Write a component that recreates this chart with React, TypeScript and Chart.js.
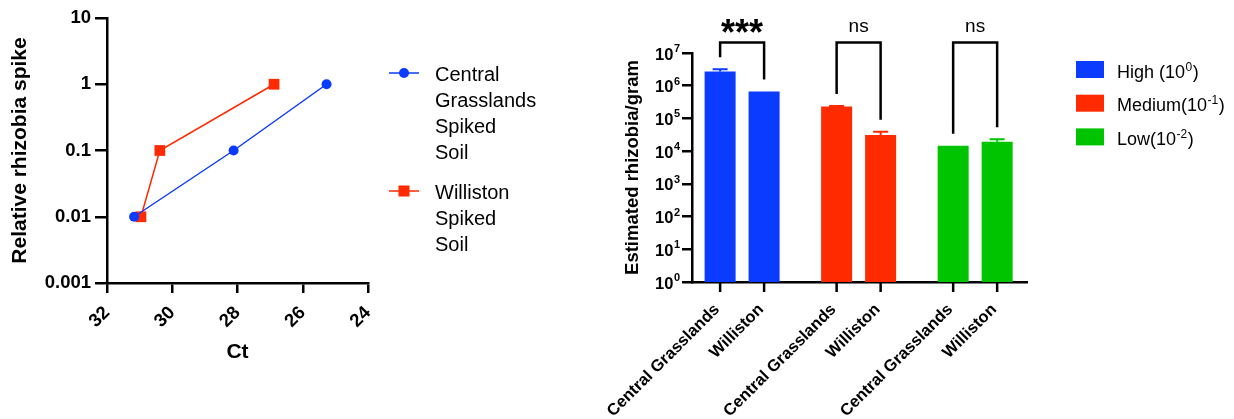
import React, { useEffect, useRef } from 'react';
import { Chart, registerables } from 'chart.js';

Chart.register(...registerables);

const FONT = 'Arial, "Liberation Sans", Helvetica, sans-serif';
Chart.defaults.font.family = FONT;
Chart.defaults.color = '#000';

// ---------- Left chart data ----------
const ctCentral = [31.17, 28.12, 25.27];
const spikeCentral = [0.01, 0.1, 1];
const ctWilliston = [30.96, 30.38, 26.88];
const spikeWilliston = [0.01, 0.1, 1];
const leftYTicks = [0.001, 0.01, 0.1, 1, 10];
const legendCentral = ['Central', 'Grasslands', 'Spiked', 'Soil'];
const legendWilliston = ['Williston', 'Spiked', 'Soil'];
const leftXTitle = 'Ct';
const leftYTitle = 'Relative rhizobia spike';

// ---------- Right chart data ----------
const groups = ['High', 'Medium', 'Low'];
const groupLegendText = ['High (10', 'Medium(10', 'Low(10'];
const groupLegendExp = ['0', '-1', '-2'];
const sites = ['Central Grasslands', 'Williston'];
const centralMeans = [2.7e6, 2.3e5, 1.45e4];
const centralErr = [5e5, 1e4, 0];
const willistonMeans = [6.6e5, 3.1e4, 1.95e4];
const willistonErr = [0, 8e3, 3.5e3];
const significance = ['***', 'ns', 'ns'];
const rightYExps = [0, 1, 2, 3, 4, 5, 6, 7];
const rightYTitle = 'Estimated rhizobia/gram';

const BLUE = '#0b3bff';
const RED = '#ff2a00';
const GREEN = '#00c400';
const groupColors = [BLUE, RED, GREEN];

const leftLegendPlugin = {
  id: 'leftLegend',
  afterDraw(chart: any) {
    const { ctx, chartArea } = chart;
    const entries = [
      { lines: legendCentral, color: BLUE, style: 'circle', y: chartArea.top + 55 },
      { lines: legendWilliston, color: RED, style: 'rect', y: chartArea.top + 173 },
    ];
    ctx.save();
    entries.forEach((e) => {
      const x0 = chartArea.right + 21;
      const x1 = x0 + 30;
      ctx.strokeStyle = e.color;
      ctx.lineWidth = 1.5;
      ctx.beginPath();
      ctx.moveTo(x0, e.y);
      ctx.lineTo(x1, e.y);
      ctx.stroke();
      ctx.fillStyle = e.color;
      const cx = (x0 + x1) / 2;
      if (e.style === 'circle') {
        ctx.beginPath();
        ctx.arc(cx, e.y, 5, 0, Math.PI * 2);
        ctx.fill();
      } else {
        ctx.fillRect(cx - 5.5, e.y - 5.5, 11, 11);
      }
      ctx.fillStyle = '#000';
      ctx.font = `20px ${FONT}`;
      ctx.textAlign = 'left';
      ctx.textBaseline = 'alphabetic';
      e.lines.forEach((t, k) => {
        ctx.fillText(t, chartArea.right + 67, e.y + 7.5 + k * 26.3);
      });
    });
    ctx.restore();
  },
};

const rightDecorPlugin = {
  id: 'rightDecor',
  afterDatasetsDraw(chart: any) {
    const { ctx, chartArea } = chart;
    const yScale = chart.scales.y;
    const metas = [chart.getDatasetMeta(0), chart.getDatasetMeta(1)];
    const means = [centralMeans, willistonMeans];
    const errs = [centralErr, willistonErr];
    ctx.save();
    // y tick labels with superscript exponents
    ctx.fillStyle = '#000';
    ctx.textBaseline = 'alphabetic';
    ctx.textAlign = 'right';
    rightYExps.forEach((e) => {
      const y = yScale.getPixelForValue(Math.pow(10, e));
      const xr = chartArea.left - 12;
      ctx.font = `bold 11px ${FONT}`;
      const ew = ctx.measureText(String(e)).width;
      ctx.fillText(String(e), xr, y - 1);
      ctx.font = `bold 16.5px ${FONT}`;
      ctx.fillText('10', xr - ew - 0.5, y + 6.5);
    });
    // error bars
    metas.forEach((meta, d) => {
      meta.data.forEach((bar: any, i: number) => {
        const e = errs[d][i];
        if (!e) return;
        const yTop = yScale.getPixelForValue(means[d][i] + e);
        ctx.strokeStyle = groupColors[i];
        ctx.lineWidth = 2;
        ctx.beginPath();
        ctx.moveTo(bar.x, bar.y);
        ctx.lineTo(bar.x, yTop);
        ctx.moveTo(bar.x - 7.5, yTop);
        ctx.lineTo(bar.x + 7.5, yTop);
        ctx.stroke();
      });
    });
    // x tick marks and labels
    ctx.strokeStyle = '#000';
    ctx.fillStyle = '#000';
    ctx.lineWidth = 2.5;
    ctx.font = `bold 16.5px ${FONT}`;
    metas.forEach((meta, d) => {
      meta.data.forEach((bar: any) => {
        ctx.beginPath();
        ctx.moveTo(bar.x, chartArea.bottom);
        ctx.lineTo(bar.x, chartArea.bottom + 10);
        ctx.stroke();
        ctx.save();
        ctx.translate(bar.x - 3, chartArea.bottom + 25);
        ctx.rotate(-Math.PI / 4);
        ctx.textAlign = 'right';
        ctx.textBaseline = 'middle';
        ctx.fillText(sites[d], 0, 0);
        ctx.restore();
      });
    });
    // significance brackets
    const topY = chartArea.top - 10.5;
    groups.forEach((_, i) => {
      const b0 = metas[0].data[i];
      const b1 = metas[1].data[i];
      const y0 = yScale.getPixelForValue(means[0][i] + errs[0][i]) - 12;
      const y1 = yScale.getPixelForValue(means[1][i] + errs[1][i]) - 12;
      ctx.strokeStyle = '#000';
      ctx.lineWidth = 2.5;
      ctx.beginPath();
      ctx.moveTo(b0.x, y0);
      ctx.lineTo(b0.x, topY);
      ctx.lineTo(b1.x, topY);
      ctx.lineTo(b1.x, y1);
      ctx.stroke();
      const cx = (b0.x + b1.x) / 2;
      ctx.textAlign = 'center';
      ctx.textBaseline = 'alphabetic';
      if (significance[i] === 'ns') {
        ctx.font = `19px ${FONT}`;
        ctx.fillText(significance[i], cx, topY - 11);
      } else {
        ctx.font = `bold 36px ${FONT}`;
        ctx.fillText(significance[i], cx, topY + 2.5);
      }
    });
    // legend
    groups.forEach((_, i) => {
      const bx = chartArea.right + 49;
      const by = 61 + i * 33.7;
      ctx.fillStyle = groupColors[i];
      ctx.fillRect(bx, by, 28, 17);
      ctx.fillStyle = '#000';
      ctx.textAlign = 'left';
      ctx.textBaseline = 'alphabetic';
      ctx.font = `18px ${FONT}`;
      const tx = chartArea.right + 90;
      const base = by + 16.5;
      ctx.fillText(groupLegendText[i], tx, base);
      let w = ctx.measureText(groupLegendText[i]).width;
      ctx.font = `12px ${FONT}`;
      ctx.fillText(groupLegendExp[i], tx + w + 0.5, base - 7);
      w += ctx.measureText(groupLegendExp[i]).width + 1;
      ctx.font = `18px ${FONT}`;
      ctx.fillText(')', tx + w, base);
    });
    ctx.restore();
  },
};

function LeftChart() {
  const ref = useRef<HTMLCanvasElement>(null);
  useEffect(() => {
    if (!ref.current) return;
    const chart = new Chart(ref.current, {
      type: 'scatter',
      data: {
        datasets: [
          {
            label: legendCentral.join(' '),
            data: ctCentral.map((x, i) => ({ x, y: spikeCentral[i] })),
            showLine: true,
            borderColor: BLUE,
            backgroundColor: BLUE,
            borderWidth: 1.5,
            pointStyle: 'circle',
            pointRadius: 5,
            pointBorderWidth: 0,
          },
          {
            label: legendWilliston.join(' '),
            data: ctWilliston.map((x, i) => ({ x, y: spikeWilliston[i] })),
            showLine: true,
            borderColor: RED,
            backgroundColor: RED,
            borderWidth: 1.5,
            pointStyle: 'rect',
            pointRadius: 7.6,
            pointBorderWidth: 0,
          },
        ],
      } as any,
      options: {
        animation: false,
        responsive: false,
        layout: { padding: { left: 0, top: 18, right: 232, bottom: 0 } },
        plugins: { legend: { display: false }, tooltip: { enabled: false } },
        scales: {
          x: {
            type: 'linear',
            min: 24,
            max: 32,
            reverse: true,
            ticks: { stepSize: 2, minRotation: 45, maxRotation: 45, padding: 9, color: '#000', font: { size: 18.5, weight: 'bold' } },
            grid: { drawOnChartArea: false, drawTicks: true, tickLength: 10, color: '#000', lineWidth: 2.5 },
            border: { color: '#000', width: 2.5 },
            title: { display: true, text: leftXTitle, color: '#000', font: { size: 21, weight: 'bold' }, padding: { top: 0, bottom: 54 } },
            afterFit: (s: any) => { s.height = 136; },
          },
          y: {
            type: 'logarithmic',
            min: 0.001,
            max: 10,
            afterBuildTicks: (s: any) => { s.ticks = leftYTicks.map((v) => ({ value: v })); },
            ticks: { callback: (v: any) => String(v), padding: 4, color: '#000', font: { size: 18.5, weight: 'bold' } },
            grid: { drawOnChartArea: false, drawTicks: true, tickLength: 12, color: '#000', lineWidth: 2.5 },
            border: { color: '#000', width: 2.5 },
            title: { display: true, text: leftYTitle, color: '#000', font: { size: 21, weight: 'bold' }, padding: { top: 8, bottom: 0 } },
            afterFit: (s: any) => { s.width = 107; },
          },
        },
      } as any,
      plugins: [leftLegendPlugin],
    });
    return () => chart.destroy();
  }, []);
  return <canvas ref={ref} width={600} height={419} style={{ position: 'absolute', left: 0, top: 0, width: 600, height: 419 }} />;
}

function RightChart() {
  const ref = useRef<HTMLCanvasElement>(null);
  useEffect(() => {
    if (!ref.current) return;
    const chart = new Chart(ref.current, {
      type: 'bar',
      data: {
        datasets: sites.map((s, d) => ({
          label: s,
          data: (d === 0 ? centralMeans : willistonMeans).map((v, i) => ({ x: i, y: v })),
          backgroundColor: groupColors,
          borderWidth: 0,
          categoryPercentage: 0.755,
          barPercentage: 0.705,
        })),
      } as any,
      options: {
        animation: false,
        responsive: false,
        layout: { padding: { left: 0, top: 53, right: 207, bottom: 0 } },
        plugins: { legend: { display: false }, tooltip: { enabled: false } },
        scales: {
          x: {
            type: 'linear',
            min: -0.43,
            max: 2.445,
            offset: false,
            afterBuildTicks: (s: any) => { s.ticks = groups.map((_, i) => ({ value: i })); },
            ticks: { display: false },
            grid: { display: false, drawTicks: false },
            border: { color: '#000', width: 2.5 },
            afterFit: (s: any) => { s.height = 137; },
          },
          y: {
            type: 'logarithmic',
            min: 1,
            max: 1e7,
            afterBuildTicks: (s: any) => { s.ticks = rightYExps.map((e) => ({ value: Math.pow(10, e) })); },
            ticks: { display: false },
            grid: { drawOnChartArea: false, drawTicks: true, tickLength: 10, color: '#000', lineWidth: 2.5 },
            border: { color: '#000', width: 2.5 },
            title: { display: true, text: rightYTitle, color: '#000', font: { size: 18.5, weight: 'bold' }, padding: { top: 22, bottom: 0 } },
            afterFit: (s: any) => { s.width = 92; },
          },
        },
      } as any,
      plugins: [rightDecorPlugin],
    });
    return () => chart.destroy();
  }, []);
  return <canvas ref={ref} width={634} height={419} style={{ position: 'absolute', left: 600, top: 0, width: 634, height: 419 }} />;
}

export default function App() {
  return (
    <div style={{ position: 'fixed', left: 0, top: 0, width: 1234, height: 419, background: '#fff', overflow: 'hidden' }}>
      <LeftChart />
      <RightChart />
    </div>
  );
}
